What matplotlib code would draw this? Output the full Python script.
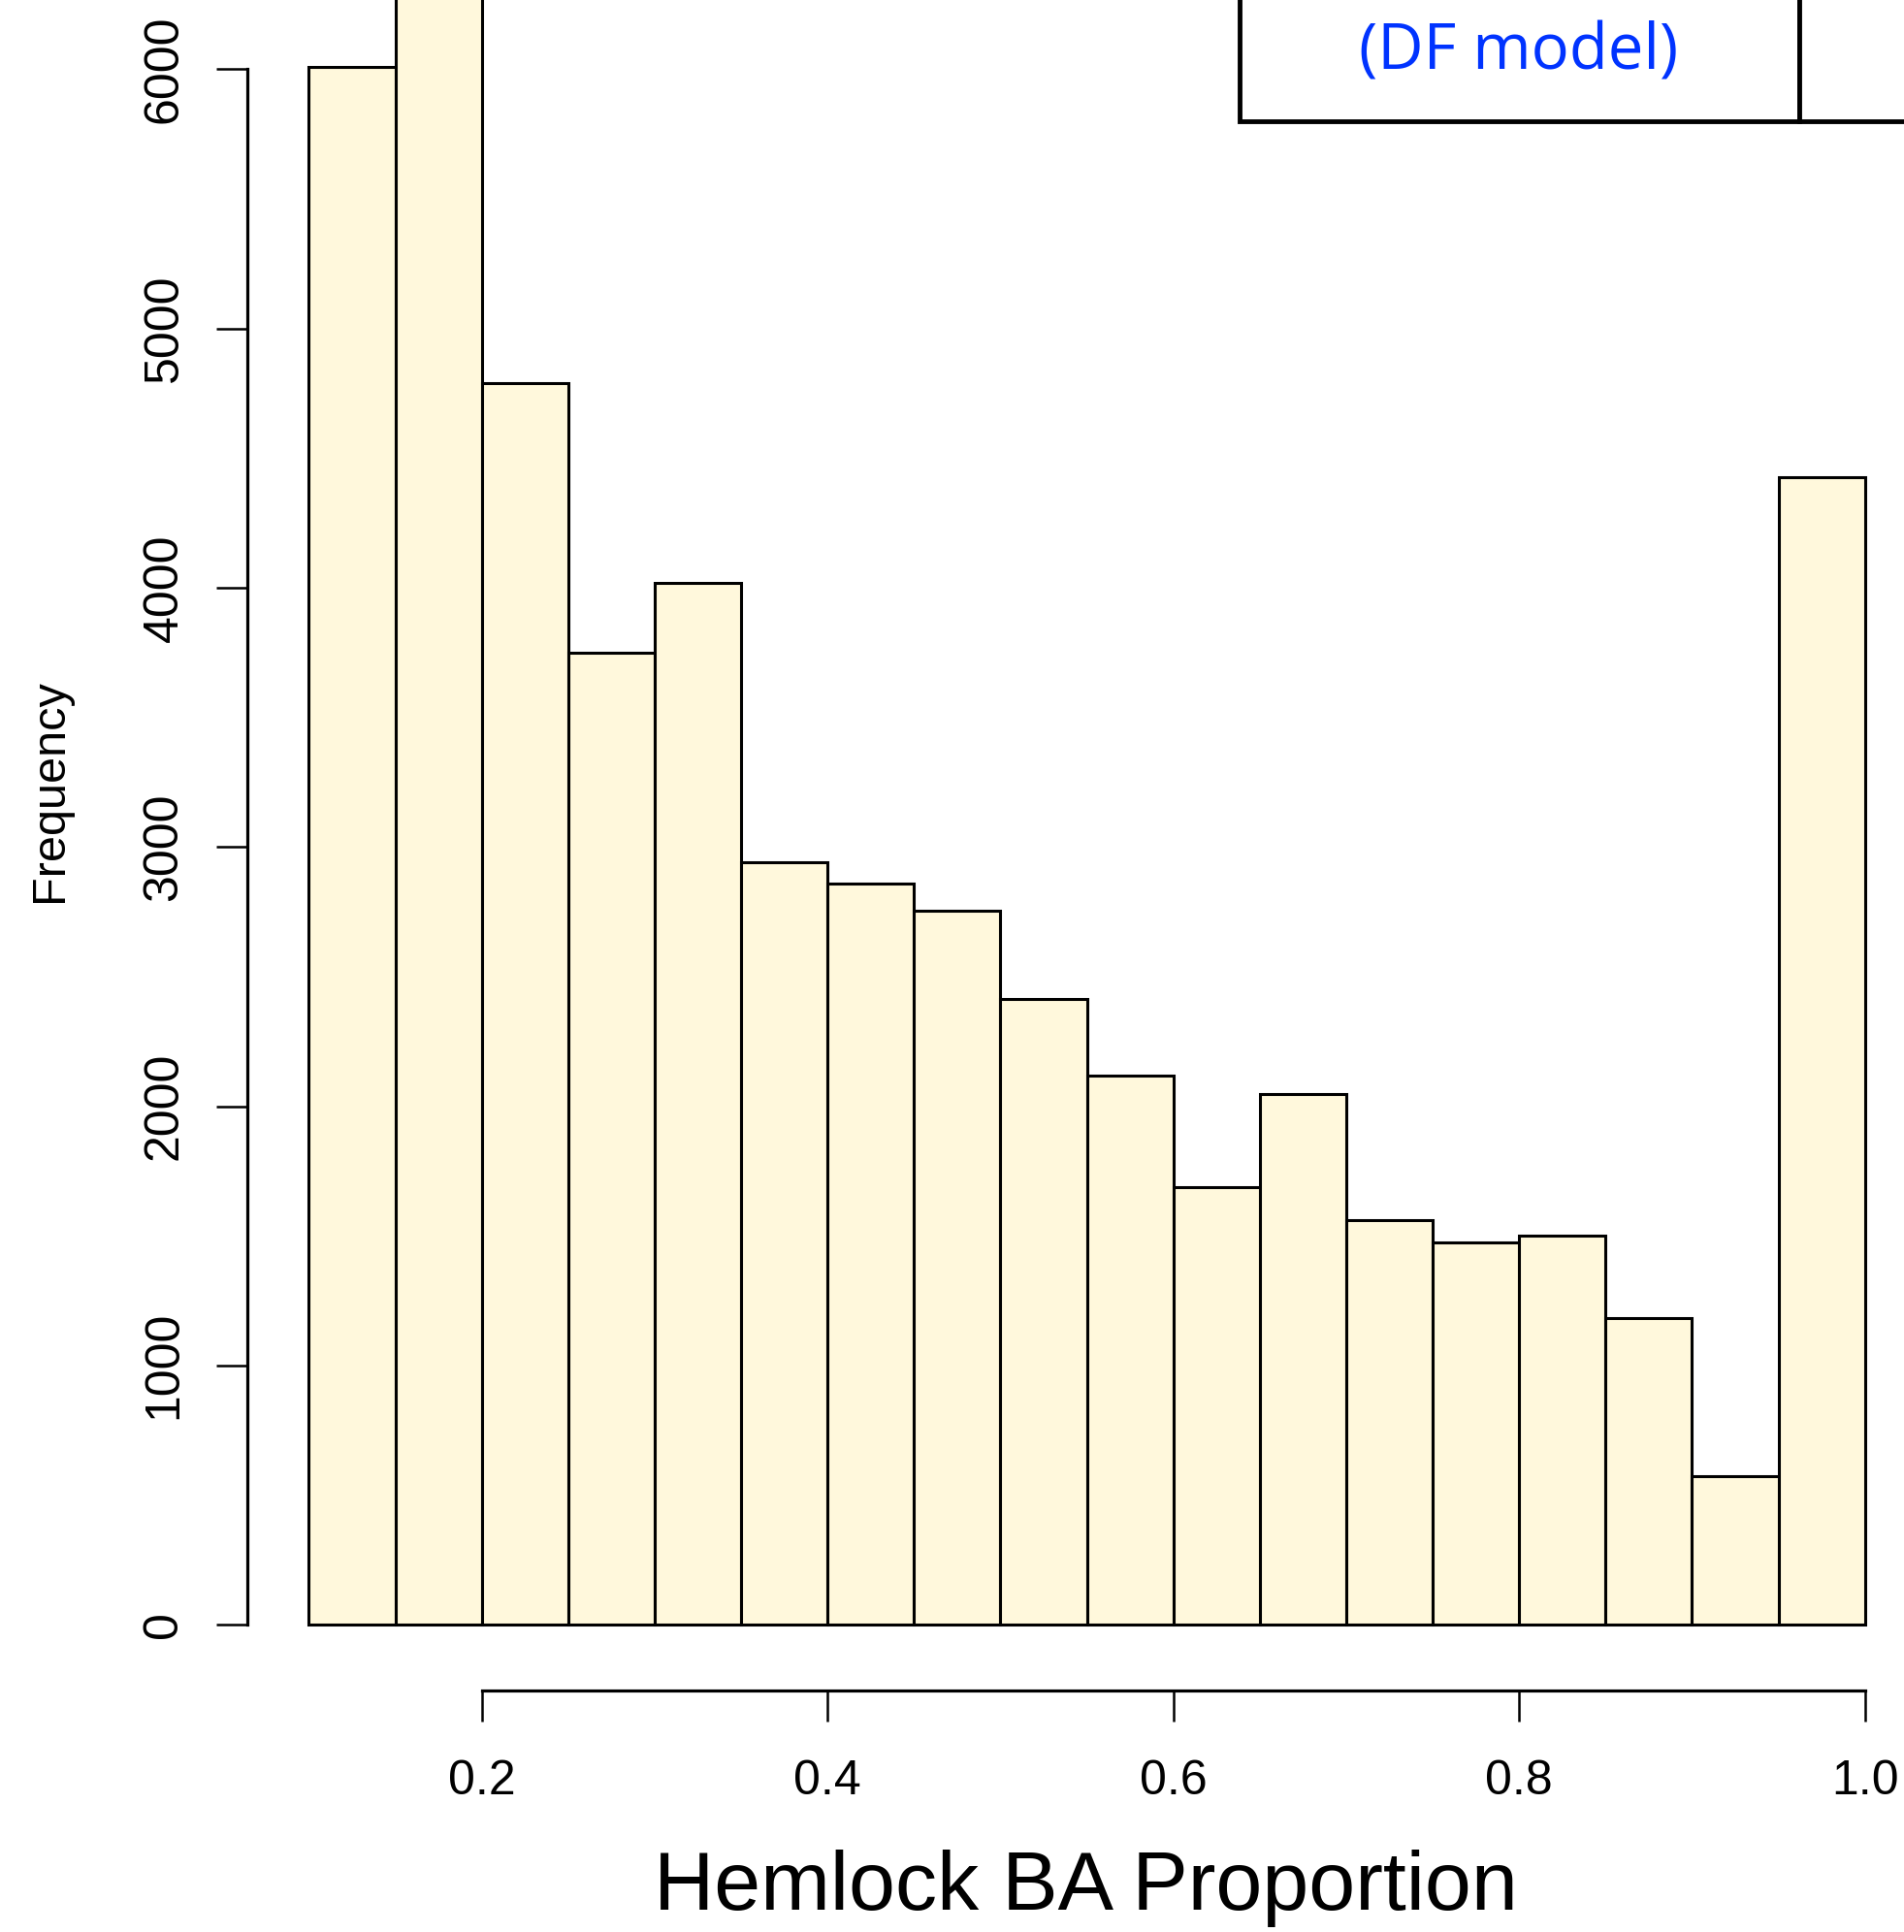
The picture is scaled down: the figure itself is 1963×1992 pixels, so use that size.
import matplotlib
matplotlib.use("Agg")
import matplotlib.pyplot as plt
from matplotlib.patches import Rectangle

# ---- data ----
bin_left = [0.10, 0.15, 0.20, 0.25, 0.30, 0.35, 0.40, 0.45, 0.50,
            0.55, 0.60, 0.65, 0.70, 0.75, 0.80, 0.85, 0.90, 0.95]
bin_width = 0.05
counts = [6010, 6450, 4790, 3750, 4020, 2940, 2857, 2753, 2415,
          2116, 1688, 2045, 1559, 1474, 1502, 1184, 574, 4428]
x_ticks = [0.2, 0.4, 0.6, 0.8, 1.0]
x_ticklabels = ["0.2", "0.4", "0.6", "0.8", "1.0"]
y_ticks = [0, 1000, 2000, 3000, 4000, 5000, 6000]
y_ticklabels = ["0", "1000", "2000", "3000", "4000", "5000", "6000"]
xlabel = "Hemlock BA Proportion"
ylabel = "Frequency"
box_text = "(DF model)"

W, H = 1963, 1992
DPI = 100
fig = plt.figure(figsize=(W / DPI, H / DPI), dpi=DPI)
ax = fig.add_axes([0, 0, 1, 1])
ax.set_facecolor("none")

# pixel mapping of the reference
x0px, xscale = 496.7, 1782.5     # px at 0.2, px per unit
y0px, yscale = 1675.0, 0.26725   # px (from top) at 0, px per count
ax.set_xlim(0.2 - x0px / xscale, 0.2 + (W - x0px) / xscale)
ax.set_ylim((y0px - H) / yscale, y0px / yscale)

ax.bar(bin_left, counts, width=bin_width, align="edge",
       color="#FFF8DC", edgecolor="black", linewidth=2.2, zorder=2)

# axes styled like base R
for s in ["top", "right"]:
    ax.spines[s].set_visible(False)
ax.spines["left"].set_position(("data", 0.2 - (x0px - 255.0) / xscale))
ax.spines["left"].set_bounds(0, 6000)
ax.spines["bottom"].set_position(("data", (y0px - 1742.7) / yscale))
ax.spines["bottom"].set_bounds(0.2, 1.0)
for s in ["left", "bottom"]:
    ax.spines[s].set_linewidth(2.3)

ax.set_xticks(x_ticks)
ax.set_xticklabels(x_ticklabels, fontfamily="Liberation Sans", fontsize=36)
ax.set_yticks(y_ticks)
ax.set_yticklabels(y_ticklabels, fontfamily="Liberation Sans", fontsize=36,
                   rotation=90)
for lab in ax.get_yticklabels():
    lab.set_va("center")
ax.tick_params(axis="x", direction="out", length=23, width=1.8, pad=28)
ax.tick_params(axis="y", direction="out", length=23, width=1.8, pad=22)

# axis titles
fig.text(1119 / W, 1 - 1969 / H, xlabel, fontfamily="Liberation Sans",
         fontsize=62, ha="center", va="baseline")
fig.text(52 / W, 1 - 815 / H, ylabel, fontfamily="Liberation Sans",
         fontsize=35, rotation=90, ha="center", va="center")

# annotation boxes at the top
box1 = Rectangle((1278 / W, 1 - 125 / H), (1855 - 1278) / W, 200 / H,
                 transform=fig.transFigure, facecolor="white",
                 edgecolor="black", linewidth=3.5, zorder=5, clip_on=False)
box2 = Rectangle((1855 / W, 1 - 125 / H), 300 / W, 200 / H,
                 transform=fig.transFigure, facecolor="white",
                 edgecolor="black", linewidth=3.5, zorder=5, clip_on=False)
fig.add_artist(box1)
fig.add_artist(box2)
fig.text(1566 / W, 1 - 54 / H, box_text, fontfamily="Open Sans",
         fontsize=47, color="#0033FF", ha="center", va="center", zorder=6)

fig.savefig("out.png", dpi=DPI)
